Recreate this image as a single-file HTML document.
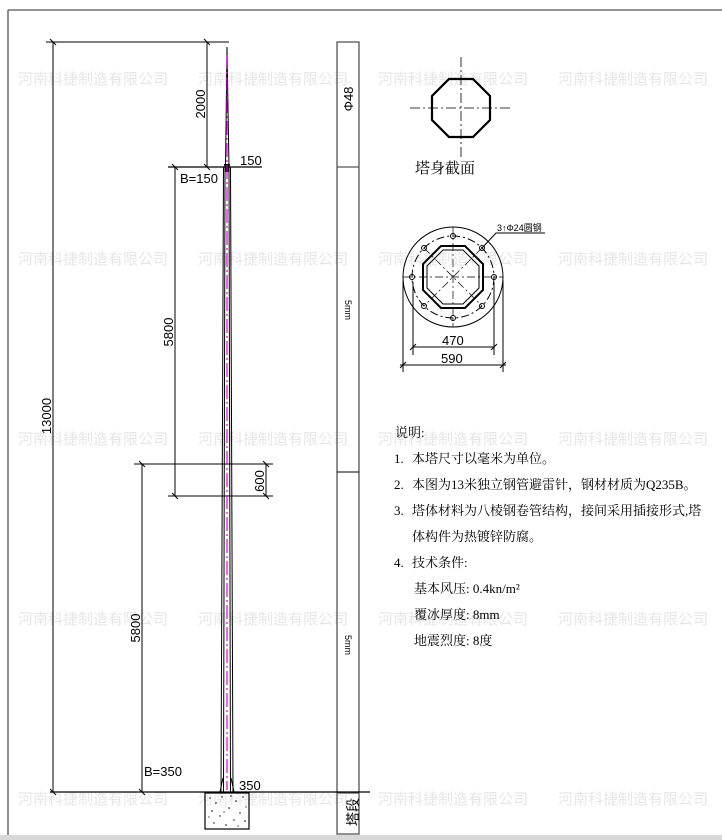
<!DOCTYPE html>
<html><head><meta charset="utf-8"><style>
html,body{margin:0;padding:0;background:#fff;}
svg{display:block;}
.t{font-family:"Liberation Sans","Noto Sans CJK SC",sans-serif;}
.s{font-family:"Liberation Serif","Noto Serif CJK SC",serif;}
.wm{font-family:"Liberation Sans","Noto Sans CJK SC",sans-serif;fill:#e6e6e6;}
</style></head><body>
<svg width="722" height="840" viewBox="0 0 722 840" xmlns="http://www.w3.org/2000/svg">
<rect width="722" height="840" fill="#fff"/>
<rect x="0" y="835" width="722" height="5" fill="#d8d8d8"/>
<g class="wm" font-size="15">
<text x="18" y="84">河南科捷制造有限公司</text><text x="198" y="84">河南科捷制造有限公司</text><text x="378" y="84">河南科捷制造有限公司</text><text x="558" y="84">河南科捷制造有限公司</text>
<text x="18" y="264">河南科捷制造有限公司</text><text x="198" y="264">河南科捷制造有限公司</text><text x="378" y="264">河南科捷制造有限公司</text><text x="558" y="264">河南科捷制造有限公司</text>
<text x="18" y="444">河南科捷制造有限公司</text><text x="198" y="444">河南科捷制造有限公司</text><text x="378" y="444">河南科捷制造有限公司</text><text x="558" y="444">河南科捷制造有限公司</text>
<text x="18" y="624">河南科捷制造有限公司</text><text x="198" y="624">河南科捷制造有限公司</text><text x="378" y="624">河南科捷制造有限公司</text><text x="558" y="624">河南科捷制造有限公司</text>
<text x="18" y="804">河南科捷制造有限公司</text><text x="198" y="804">河南科捷制造有限公司</text><text x="378" y="804">河南科捷制造有限公司</text><text x="558" y="804">河南科捷制造有限公司</text>
</g>
<g stroke="#555" stroke-width="1.3" fill="none">
<line x1="8" y1="10" x2="722" y2="10"/>
<line x1="8" y1="10" x2="8" y2="835"/>
<rect x="337" y="42" width="22" height="792"/>
<line x1="337" y1="167" x2="359" y2="167"/>
<line x1="337" y1="793" x2="359" y2="793"/>
</g>
<line x1="337" y1="472" x2="359" y2="472" stroke="#000" stroke-width="1"/>
<g stroke="#000" stroke-width="1" fill="none">
<line x1="46" y1="42" x2="229" y2="42"/>
<line x1="50" y1="792" x2="370" y2="792" stroke-width="1.2"/>
<line x1="53" y1="42" x2="53" y2="792"/>
<line x1="207" y1="42" x2="207" y2="167"/>
<line x1="168" y1="167" x2="262" y2="167" stroke-width="1.3"/>
<line x1="175" y1="167" x2="175" y2="496"/>
<line x1="134" y1="464" x2="273" y2="464"/>
<line x1="168" y1="496" x2="273" y2="496"/>
<line x1="142" y1="464" x2="142" y2="792"/>
<line x1="266" y1="464" x2="266" y2="496"/>
<line x1="50" y1="39" x2="56" y2="45"/><line x1="50" y1="789" x2="56" y2="795"/>
<line x1="204" y1="39" x2="210" y2="45"/><line x1="204" y1="164" x2="210" y2="170"/>
<line x1="172" y1="164" x2="178" y2="170"/><line x1="172" y1="493" x2="178" y2="499"/>
<line x1="139" y1="461" x2="145" y2="467"/><line x1="139" y1="789" x2="145" y2="795"/>
<line x1="263" y1="461" x2="269" y2="467"/><line x1="263" y1="493" x2="269" y2="499"/>
<line x1="226" y1="42" x2="229" y2="42"/>
<path d="M227 47 L225.5 167 M227 47 L229 167"/>
<line x1="223.5" y1="167" x2="221" y2="792"/>
<line x1="230.5" y1="167" x2="233" y2="792"/>
<line x1="225" y1="167" x2="223.5" y2="792"/>
<line x1="229" y1="167" x2="230.5" y2="792"/>
<path d="M220 792 Q222 782 223 778 M234 792 Q232 782 231 778"/>
<rect x="205" y="793" width="44" height="36" stroke-width="1.2"/>
</g>
<path d="M224 164 L230 164 L229 172 L225 172 Z" fill="#000"/>
<line x1="227" y1="55" x2="227" y2="790" stroke="#e000e0" stroke-width="1.2" stroke-dasharray="14 3 2 3"/>
<g fill="#000">
<circle cx="210" cy="798" r=".7"/><circle cx="216" cy="803" r=".8"/><circle cx="222" cy="797" r=".7"/><circle cx="236" cy="801" r=".8"/><circle cx="243" cy="797" r=".7"/><circle cx="212" cy="811" r=".8"/><circle cx="220" cy="816" r=".7"/><circle cx="229" cy="808" r=".8"/><circle cx="240" cy="813" r=".7"/><circle cx="245" cy="821" r=".8"/><circle cx="214" cy="823" r=".7"/><circle cx="226" cy="825" r=".8"/><circle cx="234" cy="820" r=".7"/><circle cx="231" cy="796" r=".7"/><circle cx="209" cy="817" r=".6"/><circle cx="238" cy="826" r=".6"/><circle cx="224" cy="812" r=".6"/><circle cx="246" cy="807" r=".6"/>
</g>
<g class="t" font-size="13" fill="#000">
<text transform="translate(205,104) rotate(-90)" text-anchor="middle">2000</text>
<text x="240" y="165">150</text>
<text x="180" y="183">B=150</text>
<text transform="translate(173,332) rotate(-90)" text-anchor="middle">5800</text>
<text transform="translate(51,416) rotate(-90)" text-anchor="middle">13000</text>
<text transform="translate(264,481) rotate(-90)" text-anchor="middle">600</text>
<text transform="translate(140,628) rotate(-90)" text-anchor="middle">5800</text>
<text x="144" y="776">B=350</text>
<text x="239" y="790">350</text>
<text transform="translate(353,99) rotate(-90)" text-anchor="middle">Φ48</text>
</g>
<g class="t" font-size="9" fill="#000">
<text transform="translate(345,310) rotate(90)" text-anchor="middle">5mm</text>
<text transform="translate(345,645) rotate(90)" text-anchor="middle">5mm</text>
</g>
<text class="t" font-size="14" transform="translate(353,812) rotate(-90)" text-anchor="middle" dominant-baseline="central">塔段</text>
<g stroke="#000" fill="none">
<line x1="461" y1="57" x2="461" y2="158" stroke-width=".8" stroke-dasharray="10 3 2 3"/>
<line x1="410" y1="108" x2="512" y2="108" stroke-width=".8" stroke-dasharray="10 3 2 3"/>
<polygon points="449,79 473,79 490,96 490,120 473,137 449,137 432,120 432,96" stroke-width="2.2"/>
</g>
<text class="s" x="415" y="173" font-size="15" fill="#000">塔身截面</text>
<g stroke="#000" fill="none" stroke-width="1">
<circle cx="453" cy="277" r="50"/>
<circle cx="453" cy="277" r="41" stroke-dasharray="8 3 2 3"/>
<polygon points="441,246 465,246 483,264 483,290 465,308 441,308 423,290 423,264" stroke-width="2"/>
<polygon points="443,250 463,250 479,266 479,288 463,304 443,304 427,288 427,266" stroke-width="1"/>
<line x1="403" y1="277" x2="503" y2="277" stroke-dasharray="8 3 2 3" stroke-width=".7"/>
<line x1="453" y1="227" x2="453" y2="327" stroke-dasharray="8 3 2 3" stroke-width=".7"/>
<line x1="424" y1="248" x2="482" y2="306" stroke-dasharray="8 3 2 3" stroke-width=".7"/>
<line x1="482" y1="248" x2="424" y2="306" stroke-dasharray="8 3 2 3" stroke-width=".7"/>
<circle cx="453" cy="236" r="2.5"/><circle cx="453" cy="318" r="2.5"/>
<circle cx="412" cy="277" r="2.5"/><circle cx="494" cy="277" r="2.5"/>
<circle cx="424" cy="248" r="2.5"/><circle cx="482" cy="248" r="2.5"/>
<circle cx="424" cy="306" r="2.5"/><circle cx="482" cy="306" r="2.5"/>
<polyline points="482,248 496,233 545,233"/>
<line x1="413" y1="282" x2="413" y2="355"/><line x1="494" y1="282" x2="494" y2="355"/>
<line x1="403" y1="280" x2="403" y2="372"/><line x1="503" y1="280" x2="503" y2="372"/>
<line x1="413" y1="347" x2="494" y2="347"/>
<line x1="400" y1="365" x2="506" y2="365"/>
<line x1="410" y1="350" x2="416" y2="344"/><line x1="491" y1="350" x2="497" y2="344"/>
<line x1="400" y1="368" x2="406" y2="362"/><line x1="500" y1="368" x2="506" y2="362"/>
</g>
<text class="t" x="497" y="231" font-size="9" fill="#000">3↑Φ24圆钢</text>
<text class="t" x="442" y="345" font-size="13" fill="#000">470</text>
<text class="t" x="441" y="363" font-size="13" fill="#000">590</text>
<g class="s" font-size="13" fill="#000">
<text x="395" y="437">说明:</text>
<text x="394" y="463">1.</text><text x="412" y="463">本塔尺寸以毫米为单位。</text>
<text x="394" y="489">2.</text><text x="412" y="489">本图为13米独立钢管避雷针，钢材材质为Q235B。</text>
<text x="394" y="515">3.</text><text x="412" y="515">塔体材料为八棱钢卷管结构，接间采用插接形式,塔</text>
<text x="412" y="541">体构件为热镀锌防腐。</text>
<text x="394" y="567">4.</text><text x="412" y="567">技术条件:</text>
<text x="414" y="593">基本风压: 0.4kn/m²</text>
<text x="414" y="619">覆冰厚度: 8mm</text>
<text x="414" y="645">地震烈度: 8度</text>
</g>
</svg>
</body></html>
